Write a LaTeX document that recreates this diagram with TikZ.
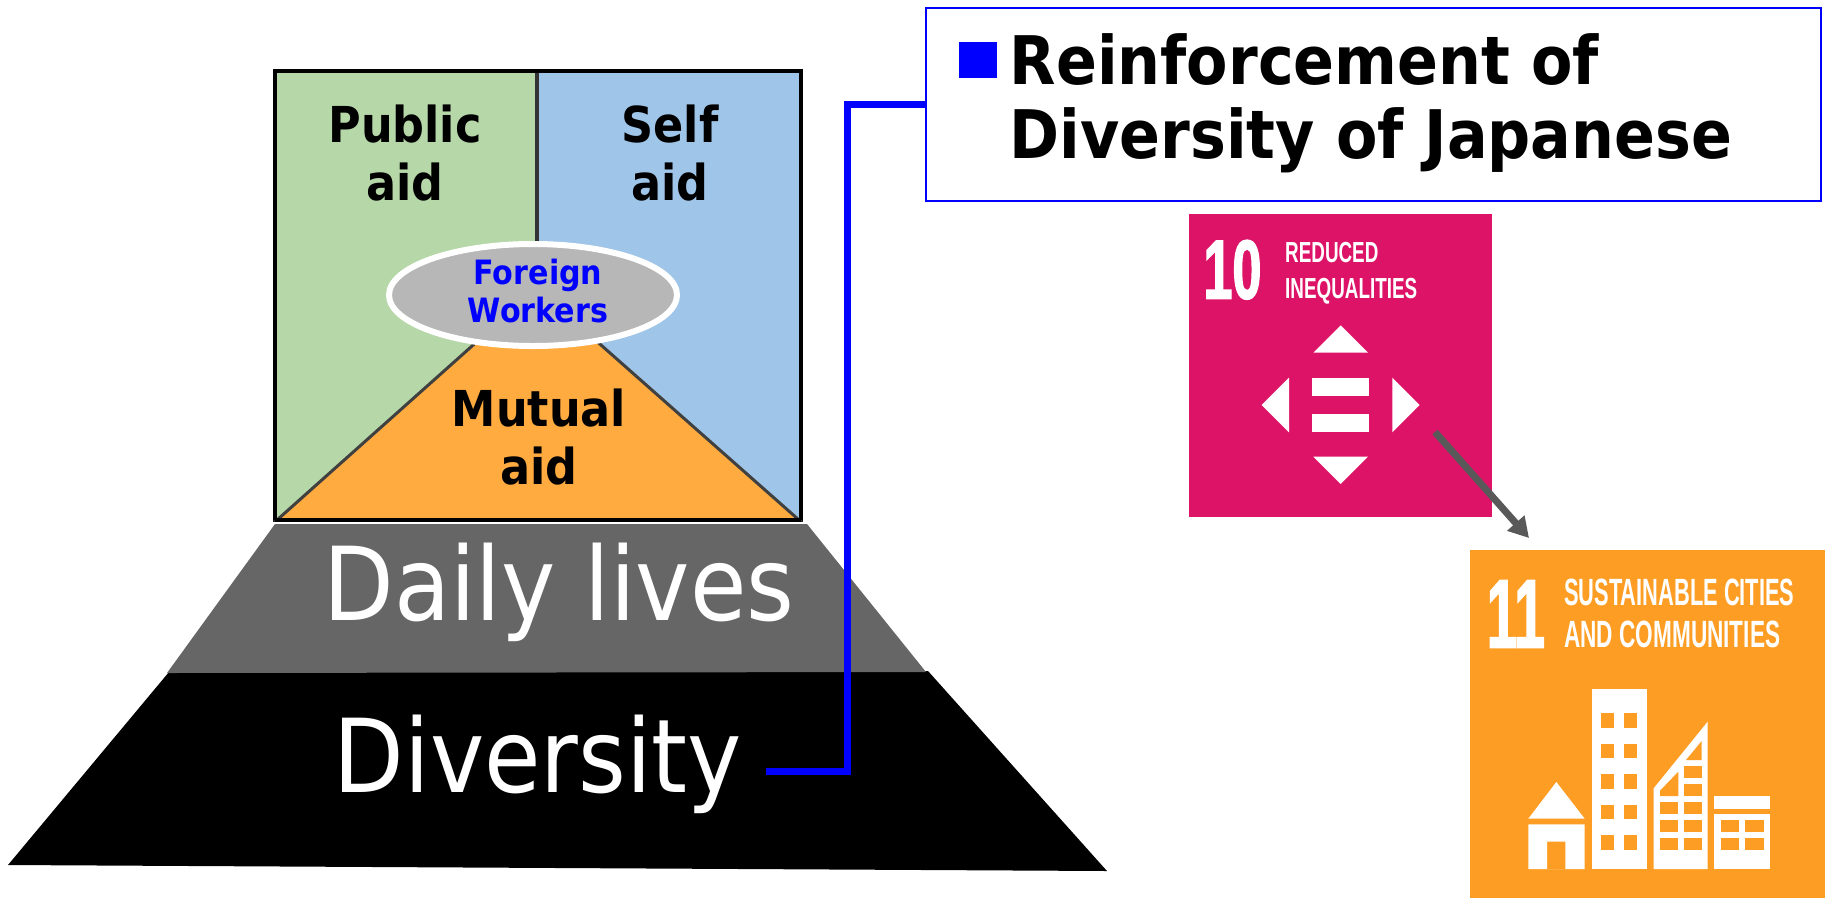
\documentclass[tikz,border=0pt]{standalone}
\usepackage{fontspec}
\setmainfont{DejaVu Sans}[FakeStretch=0.9]
\newfontfamily\sdgfont{Liberation Sans}[FakeStretch=0.65]
\newfontfamily\sdgnarrow{Liberation Sans}[FakeStretch=0.575]
\newfontfamily\sdgwider{Liberation Sans}[FakeStretch=0.595]
\newfontfamily\sdgnum{Liberation Sans Bold}[FakeStretch=0.56,FakeBold=1.5]
\newfontfamily\sdgten{Liberation Sans Bold}[FakeStretch=0.62,FakeBold=1.5]
\usepackage{tikz}
\usetikzlibrary{arrows.meta,shapes.geometric}
\definecolor{publicgreen}{HTML}{B6D7A8}
\definecolor{selfblue}{HTML}{9FC5E8}
\definecolor{mutualorange}{HTML}{FFAB40}
\definecolor{dailygray}{HTML}{666666}
\definecolor{workergray}{HTML}{B7B7B7}
\definecolor{arrowgray}{HTML}{595959}
\definecolor{sdgpink}{HTML}{DD1367}
\definecolor{sdgorange}{HTML}{FD9D24}
\tikzset{
	biglabel/.style={text=white,inner sep=0pt,font=\fontsize{102}{110}\selectfont},
	aidlabel/.style={align=center,inner sep=0pt,font=\bfseries\fontsize{49.5}{58}\selectfont},
	sdgtext/.style={text=white,inner sep=0pt,anchor=base west},
	link/.style={line width=7pt,blue,line join=miter},
}
\begin{document}
\begin{tikzpicture}[x=1pt,y=-1pt]
	\useasboundingbox (0,0) rectangle (1826,898);
	% pyramid
	\fill[black] (169,672)--(928,671)--(1107,871)--(8,865)--cycle;
	\fill[dailygray] (275,524)--(807,524)--(926,672)--(167,673)--cycle;
	\fill[publicgreen] (275,71) rectangle (537,520);
	\fill[selfblue] (537,71) rectangle (801,520);
	\draw[line width=3.5pt,black!80] (537,71)--(537,300);
	\draw[line width=4.5pt,black] (275,520)--(275,71)--(801,71)--(801,520)--cycle;
	\draw[line width=3pt,black!75,fill=mutualorange] (277,520)--(490,330)--(584,330)--(799,520)--cycle;
	\draw[line width=4.5pt,black] (275,520)--(801,520);
	\node[ellipse,draw=white,line width=6pt,fill=workergray,minimum width=288pt,minimum height=102pt,inner sep=0pt] (workers) at (533,295) {};
	\node[text=blue,align=center,inner sep=0pt,font=\bfseries\fontsize{33.5}{38}\selectfont] (foreign) at (538,291) {Foreign\\Workers};
	\node[aidlabel] (public) at (405,153) {Public\\aid};
	\node[aidlabel] (self) at (670,153) {Self\\aid};
	\node[aidlabel] (mutual) at (539,437) {Mutual\\aid};
	\node[biglabel] (daily) at (559,592) {Daily lives};
	\node[biglabel] (diversity) at (538,764) {Diversity};
	% heading
	\node[draw=blue,line width=2pt,fill=white,minimum width=895pt,minimum height=193pt,inner sep=0pt] (reinf) at (1373.5,104.5) {};
	\node[fill=blue,minimum width=38pt,minimum height=36pt,inner sep=0pt] (bullet) at (977.5,60) {};
	\node[anchor=base west,inner sep=0pt,font=\bfseries\fontsize{67}{74}\selectfont] (line1) at (1009.5,84) {Reinforcement of};
	\node[anchor=base west,inner sep=0pt,font=\bfseries\fontsize{67}{74}\selectfont] (line2) at (1009.5,158) {Diversity of Japanese};
	\coordinate (divend) at (766,771);
	\coordinate (turn) at (847,771);
	\draw[link] (divend)--(turn)--(turn|-reinf.west)--(reinf.west);
	% goal 10
	\begin{scope}[shift={(1170,200)},x=1/3*1pt,y=-1/3*1pt]
		\fill[sdgpink] (57,42) rectangle (966,952);
		\fill[white] (430,458)--(512,376)--(594,458)--cycle;
		\fill[white] (357,533)--(275,615)--(357,697)--cycle;
		\fill[white] (667,533)--(749,615)--(667,697)--cycle;
		\fill[white] (430,770)--(594,770)--(512,852)--cycle;
		\fill[white] (426,533) rectangle (598,589);
		\fill[white] (426,641) rectangle (598,697);
		\node[sdgtext,font=\sdgten\fontsize{84}{84}\selectfont] (ten) at (100,296) {10};
		\node[sdgtext,font=\sdgfont\bfseries\fontsize{29}{29}\selectfont] (reduced) at (345,186) {REDUCED};
		\node[sdgtext,font=\sdgfont\bfseries\fontsize{29}{29}\selectfont] (inequal) at (345,296) {INEQUALITIES};
	\end{scope}
	% goal 11
	\begin{scope}[shift={(1450,540)},x=1/3*1pt,y=-1/3*1pt]
		\fill[sdgorange] (60,30) rectangle (1126,1074);
		\node[sdgtext,font=\sdgnum\fontsize{98}{98}\selectfont] (eleven) at (110,323) {11};
		\node[sdgtext,font=\sdgnarrow\bfseries\fontsize{38}{38}\selectfont] (sustain) at (342,197) {SUSTAINABLE CITIES};
		\node[sdgtext,font=\sdgwider\bfseries\fontsize{38}{38}\selectfont] (commun) at (342,322) {AND COMMUNITIES};
		\fill[white] (235,836)--(319,726)--(404,836)--cycle;
		\fill[white,even odd rule] (235,853) rectangle (404,987) (291,905) rectangle (346,987);
		\fill[white] (426,447) rectangle (590,987);
		\foreach \wy in {519,611,703,794,885}
			\foreach \wx in {453,523}
				\fill[sdgorange] (\wx,\wy) rectangle +(39,44);
		\fill[white] (611,745)--(773,545)--(773,987)--(611,987)--cycle;
		\fill[sdgorange] (708,660)--(755,603)--(755,660)--cycle;
		\fill[sdgorange] (630,768)--(630,752)--(685,695)--(685,768)--cycle;
		\foreach \wy in {678,732,786,840,893}
			\fill[sdgorange] (702,\wy) rectangle +(53,36);
		\foreach \wy in {786,840,893}
			\fill[sdgorange] (630,\wy) rectangle +(55,36);
		\fill[white] (793,769) rectangle (960,807);
		\fill[white] (793,821) rectangle (960,988);
		\foreach \wy in {840,893}
			\foreach \wx in {813,886}
				\fill[sdgorange] (\wx,\wy) rectangle +(55,36);
	\end{scope}
	\coordinate (goalstart) at (1435,432);
	\coordinate (goalend) at (1529,538);
	\draw[line width=7pt,arrowgray,-{Triangle[length=20pt,width=22pt]}] (goalstart)--(goalend);
\end{tikzpicture}
\end{document}
